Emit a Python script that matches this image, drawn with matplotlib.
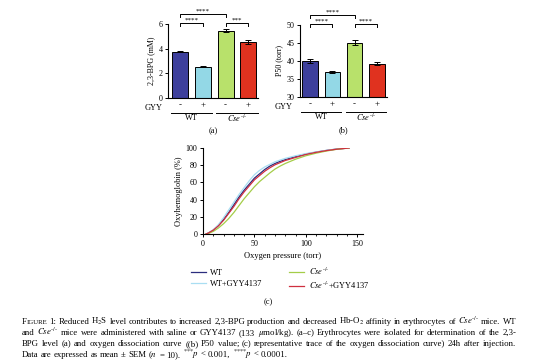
import numpy as np
import matplotlib
matplotlib.use('Agg')
import matplotlib.pyplot as plt
import matplotlib.transforms as mtrans

plt.rcParams['font.family'] = ['Liberation Serif', 'DejaVu Serif']
plt.rcParams['mathtext.fontset'] = 'stix'
plt.rcParams['axes.linewidth'] = 0.8

# ---- data ----
gyy = ['-', '+', '-', '+']
bar_colors = ['#3d3f9c', '#93d8e6', '#b8e16b', '#e0321f']
bpg_mean = [3.75, 2.55, 5.45, 4.52]
bpg_sem = [0.05, 0.07, 0.13, 0.15]
p50_mean = [40.0, 36.9, 45.1, 39.3]
p50_sem = [0.55, 0.3, 0.6, 0.5]
bpg_sig = [(0, 2, '****'), (0, 1, '****'), (2, 3, '***')]
p50_sig = [(0, 2, '****'), (0, 1, '****'), (2, 3, '****')]

pressure = [3, 5, 10, 15, 20, 25, 30, 35, 40, 45, 50, 55, 60, 65, 70, 75, 80, 90, 100, 110, 120, 130, 142]
sat_wt = [0, 1, 4.5, 10, 17, 25, 34, 43, 51, 58, 65, 70, 75, 79, 82, 84.5, 86.5, 90, 93, 95.2, 97.2, 98.8, 100]
sat_wt_gyy = [0, 1, 5, 11, 19, 28, 37, 46, 54, 62, 69, 74, 78, 81, 84, 86, 88, 91, 93.5, 95.5, 97.3, 98.8, 100]
sat_cse = [0, 0.5, 3, 7, 12, 18, 25, 33, 41, 48, 55, 61, 66, 71, 75.5, 79, 82, 87, 91, 94, 96.5, 98.5, 100]
sat_cse_gyy = [0, 1, 4.5, 9.5, 16, 24, 32, 41, 49, 56, 63, 68, 73, 77, 80.5, 83, 85.5, 89, 92.5, 95, 97, 98.6, 100]

W, H = 538, 360
fig = plt.figure(figsize=(W / 100, H / 100), dpi=100)
CSE = r'$Cse^{\text{-/-}}$'


def px_axes(l, t, r, b):
    return fig.add_axes([l / W, 1 - b / H, (r - l) / W, (b - t) / H])


def ftext(x, y, s, **kw):
    return fig.text(x / W, 1 - y / H, s, **kw)


def bar_panel(box, means, sems, ylim, yticks, ylabel, xlim, sig, letter):
    ax = px_axes(*box)
    x = np.arange(len(means))
    ax.bar(x, means, width=0.7, color=bar_colors, edgecolor='black', linewidth=0.7,
           yerr=sems, error_kw=dict(elinewidth=0.7, capsize=2, capthick=0.7, ecolor='black'))
    ax.set_xlim(*xlim)
    ax.set_ylim(*ylim)
    ax.set_yticks(yticks)
    ax.set_xticks(x, gyy)
    ax.tick_params(axis='x', length=0, pad=2.5, labelsize=6.5)
    ax.tick_params(axis='y', length=2.5, width=0.7, pad=1.5, labelsize=5.8)
    for s in ['top', 'right']:
        ax.spines[s].set_visible(False)
    ax.set_ylabel(ylabel, fontsize=5.8, labelpad=2)
    tr = mtrans.blended_transform_factory(ax.transData, fig.transFigure)
    fy = lambda py: 1 - py / H
    # group underlines and names
    for i0, i1, name in [(0, 1, 'WT'), (2, 3, CSE)]:
        ax.plot([i0 - 0.4, i1 + 0.4], [fy(box[3] + 15)] * 2, color='black', lw=0.7,
                transform=tr, clip_on=False)
        ax.text((i0 + i1) / 2, fy(box[3] + 20.5), name, transform=tr, ha='center', va='center',
                fontsize=6)
    # significance brackets
    levels = [box[1] - 10, box[1] - 1, box[1] - 1]
    for (i0, i1, stars), py in zip(sig, levels):
        ax.plot([i0, i0, i1, i1], [fy(py + 3), fy(py), fy(py), fy(py + 3)], color='black',
                lw=0.7, transform=tr, clip_on=False)
        ax.text((i0 + i1) / 2, fy(py - 0.5), stars, transform=tr, ha='center', va='bottom',
                fontsize=5)
    ftext((box[0] + box[2]) / 2, box[3] + 33, letter, ha='center', va='center', fontsize=6)
    return ax


bar_panel((168, 24, 258, 98), bpg_mean, bpg_sem, (0, 6), [0, 2, 4, 6], '2,3-BPG (mM)',
          (-0.52, 3.42), bpg_sig, '(a)')
ftext(145, 107.5, 'GYY', va='center', fontsize=6)
bar_panel((300, 25, 387, 97), p50_mean, p50_sem, (30, 50), [30, 35, 40, 45, 50], 'P50 (torr)',
          (-0.45, 3.45), p50_sig, '(b)')
ftext(275, 106.5, 'GYY', va='center', fontsize=6)

# ---- panel c ----
axc = px_axes(203, 148, 363, 234)
axc.plot(pressure, sat_wt, color='#2b2d7e', lw=0.9, label='WT')
axc.plot(pressure, sat_wt_gyy, color='#a9def2', lw=0.9, label='WT+GYY4137')
axc.plot(pressure, sat_cse, color='#a4cd48', lw=0.9, label=CSE)
axc.plot(pressure, sat_cse_gyy, color='#cf2f3f', lw=0.9, label=CSE + '+GYY4137')
axc.set_xlim(0, 155.5)
axc.set_ylim(0, 100)
axc.set_xticks([0, 50, 100, 150])
axc.set_xticks(np.arange(0, 151, 10), minor=True)
axc.set_yticks(np.arange(0, 101, 20))
axc.tick_params(which='major', length=2.5, width=0.7, pad=1.5, labelsize=5.8)
axc.tick_params(which='minor', length=1.5, width=0.6)
for s in ['top', 'right']:
    axc.spines[s].set_visible(False)
axc.set_xlabel('Oxygen pressure (torr)', fontsize=6, labelpad=3)
axc.set_ylabel('Oxyhemoglobin (%)', fontsize=6, labelpad=2)
h, l = axc.get_legend_handles_labels()
fig.legend(h, l, ncol=2, loc='center', bbox_to_anchor=(280 / W, 1 - 278.5 / H), frameon=False,
           fontsize=6, handlelength=1.8, columnspacing=3.2, labelspacing=0.3, handletextpad=0.5)
ftext(268, 302, '(c)', ha='center', va='center', fontsize=6)

# ---- caption (justified) ----
fs = 6.3
lines = [
    [[('F', fs), ('IGURE', fs * 0.78)], '1:', 'Reduced', r'H$_2$S', 'level', 'contributes', 'to',
     'increased', '2,3-BPG', 'production', 'and', 'decreased', r'Hb-O$_2$', 'affinity', 'in',
     'erythrocytes', 'of', CSE, 'mice.', 'WT'],
    'and ' + CSE + ' mice were administered with saline or GYY4137 (133 $\\mu$mol/kg). '
    '(a\u2013c) Erythrocytes were isolated for determination of the 2,3-',
    'BPG level (a) and oxygen dissociation curve ((b) P50 value; (c) representative trace of '
    'the oxygen dissociation curve) 24h after injection.',
    'Data are expressed as mean \u00b1 SEM ($n$ = 10). '
    r'$^{\text{***}}\mathit{p}$ < 0.001, $^{\text{****}}\mathit{p}$ < 0.0001.',
]
renderer = fig.canvas.get_renderer()
x0, x1 = 22, 516
base_y = [324, 335, 346, 357]
for k, (ln, py) in enumerate(zip(lines, base_y)):
    words = ln.split(' ') if isinstance(ln, str) else ln
    placed = []
    total = 0
    for w in words:
        segs = w if isinstance(w, list) else [(w, fs)]
        ts = []
        ww = 0
        for s, size in segs:
            t = ftext(0, py, s, fontsize=size, va='baseline', ha='left')
            wd = t.get_window_extent(renderer).width
            ts.append((t, ww))
            ww += wd
        placed.append((ts, ww))
        total += ww
    if k < len(lines) - 1:
        gap = (x1 - x0 - total) / (len(words) - 1)
    else:
        gap = fs * 0.25 * 100 / 72
    cx = x0
    for ts, ww in placed:
        for t, off in ts:
            t.set_x((cx + off) / W)
        cx += ww + gap

fig.savefig('out.png', dpi=100)
